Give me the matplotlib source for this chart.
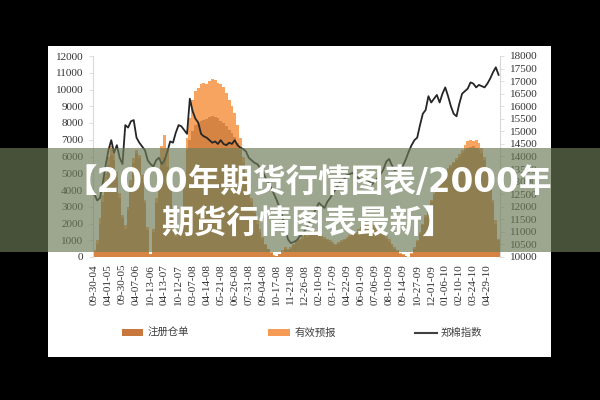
import matplotlib
matplotlib.use("Agg")
import matplotlib.pyplot as plt
from matplotlib.patches import Rectangle
from matplotlib.lines import Line2D
from matplotlib.patches import Patch
import numpy as np

# ---------------- data ----------------
tick_labels = ["09-30-04", "04-01-05", "09-30-05", "04-07-06", "10-13-06", "04-13-07",
               "10-12-07", "03-07-08", "04-14-08", "05-21-08", "06-26-08", "07-31-08",
               "09-04-08", "10-17-08", "11-21-08", "12-26-08", "02-10-09", "03-17-09",
               "04-22-09", "06-01-09", "07-06-09", "08-10-09", "09-14-09", "10-27-09",
               "12-01-09", "01-06-10", "02-10-10", "03-24-10", "04-29-10"]
tick_every = 5

# 郑棉指数 (right axis)
zhengmian = [12500, 12250, 12350, 12950, 13650, 14250, 14650, 14150, 14450, 13950,
             13700, 15250, 15150, 15400, 15450, 14750, 14550, 14400, 14250, 13850,
             13700, 13600, 13850, 13950, 13700, 13850, 14200, 14600, 14550, 14950,
             15250, 15200, 15050, 14900, 16300, 15800, 15500, 15350, 14900, 14800,
             14750, 14650, 14550, 14600, 14500, 14650, 14500, 14450, 14550, 14500,
             14650, 14450, 14350, 14300, 14200, 13950, 13850, 13750, 13700, 13550,
             13400, 13150, 12950, 12750, 12500, 12250, 11950, 11600, 11100, 10700,
             10550, 10600, 10650, 10800, 10900, 11050, 11250, 11450, 11700, 11950,
             12150, 12050, 11950, 12200, 12350, 12550, 12700, 12900, 13050, 13100,
             13250, 13300, 13350, 13200, 13150, 13050, 13000, 12950, 13000, 12900,
             13050, 13150, 13300, 13500, 13800, 13900, 13650, 13450, 13550, 13500,
             13650, 13900, 14200, 14450, 14650, 14750, 15250, 15700, 15850, 16400,
             16150, 16300, 16450, 16150, 16500, 16750, 16400, 16000, 15700, 15600,
             16100, 16500, 16600, 16700, 16950, 16900, 16750, 16850, 16800, 16750,
             16900, 17100, 17350, 17550, 17250]

# 注册仓单 (left axis)
cangdan = [300, 800, 2000, 3300, 4500, 5500, 6100, 5800, 4800, 3500,
           2300, 1700, 2800, 4300, 5600, 6200, 5900, 4700, 3200, 1600,
           150, 1500, 3200, 4600, 5600, 6000, 5400, 4000, 2500, 1200,
           1300, 2500, 4200, 6400, 7000, 7500, 7900, 8000, 8100, 8200,
           8250, 8350, 8400, 8350, 8300, 8100, 8000, 7800, 7600, 7400,
           7150, 6800, 6400, 5600, 4700, 4000, 3300, 2600, 2000, 1500,
           1100, 700, 450, 250, 80, 30, 150, 300, 500, 400,
           500, 700, 900, 1000, 1100, 1300, 1200, 1400, 1500, 1400,
           1300, 1200, 1100, 1000, 900, 800, 700, 800, 900, 1000,
           1100, 1200, 1300, 1400, 1500, 1600, 1700, 1800, 1900, 1800,
           1700, 1500, 1400, 1300, 1100, 900, 700, 500, 350, 200,
           100, 30, 0, 200, 500, 900, 1400, 1900, 2400, 2900,
           3300, 3700, 4000, 4300, 4600, 4900, 5200, 5400, 5600, 5800,
           6000, 6200, 6400, 6500, 6550, 6600, 6500, 6400, 6200, 5800,
           5200, 4300, 3200, 2000, 1000]

# 有效预报 (left axis)
yubao = [400, 1000, 2300, 3700, 5000, 6000, 6600, 6200, 5100, 3800,
         2500, 1900, 3000, 4600, 5900, 6400, 6100, 4900, 3400, 1800,
         200, 1700, 3500, 5200, 6600, 7300, 6500, 4600, 2800, 1400,
         1600, 3000, 5000, 7100, 8300, 9400, 9900, 10100, 10300, 10400,
         10350, 10500, 10600, 10550, 10400, 10300, 10150, 9800, 9400, 9000,
         8600, 7900, 7100, 6000, 5000, 4200, 3500, 2800, 2200, 1700,
         1200, 800, 500, 300, 100, 50, 200, 400, 600, 500,
         600, 800, 1000, 1100, 1250, 1400, 1300, 1500, 1650, 1500,
         1400, 1300, 1200, 1100, 1000, 900, 800, 900, 1000, 1100,
         1200, 1300, 1400, 1500, 1650, 1800, 1900, 2000, 2100, 2000,
         1900, 1700, 1600, 1450, 1250, 1050, 800, 600, 400, 250,
         150, 50, 0, 250, 600, 1000, 1500, 2000, 2500, 3000,
         3400, 3800, 4100, 4400, 4700, 5000, 5300, 5500, 5700, 5900,
         6150, 6400, 6700, 6900, 7000, 6950, 7000, 6800, 6500, 6000,
         5400, 4500, 3400, 2200, 1100]

series_names = ["注册仓单", "有效预报", "郑棉指数"]
banner_text = "【2000年期货行情图表/2000年\n期货行情图表最新】"

# ---------------- figure ----------------
W, H = 600, 400
fig = plt.figure(figsize=(6, 4), dpi=100, facecolor="black")

def fx(px):
    return px / W

def fy(py):
    return 1 - py / H

# white panel
fig.patches.append(Rectangle((fx(48), fy(357)), fx(551) - fx(48), fy(46) - fy(357),
                             transform=fig.transFigure, facecolor="white",
                             edgecolor="none", zorder=-5))

ax = fig.add_axes([fx(93), fy(257), fx(500) - fx(93), fy(56) - fy(257)])
ax.set_facecolor("none")
ax.set_zorder(1)

x = np.arange(len(zhengmian))
c_yubao = "#F59A4F"
c_cangdan = "#C27031"
ax.bar(x, yubao, width=1.0, color=c_yubao, alpha=0.9, linewidth=0)
ax.bar(x, cangdan, width=1.0, color=c_cangdan, alpha=0.6, linewidth=0)
ax.set_ylim(0, 12000)
ax.set_yticks(np.arange(0, 12001, 1000))
ax.set_xlim(-0.5, len(zhengmian) - 0.5)
ticks = np.arange(len(tick_labels)) * tick_every
ax.set_xticks(ticks)
ax.set_xticklabels(tick_labels, rotation=90)

ax2 = ax.twinx()
ax2.plot(x, zhengmian, color="#262626", lw=1.3)
ax2.set_ylim(10000, 18000)
ax2.set_yticks(np.arange(10000, 18001, 500))

serif = ["Liberation Serif", "DejaVu Serif"]
for a in (ax, ax2):
    for s in a.spines.values():
        s.set_visible(False)
    a.tick_params(axis="y", length=3, width=0.6, color="#D9D9D9", pad=4,
                  labelsize=8, labelcolor="#333333")
    for lab in a.get_yticklabels():
        lab.set_family(serif)
ax.spines["left"].set_visible(True)
ax.spines["left"].set_color("#D9D9D9")
ax2.spines["right"].set_visible(True)
ax2.spines["right"].set_color("#D9D9D9")
ax.tick_params(axis="x", length=0, pad=5, labelsize=8, labelcolor="#333333")
for lab in ax.get_xticklabels():
    lab.set_family(serif)

# legend
handles = [Patch(facecolor="#C8783C", edgecolor="none"),
           Patch(facecolor="#F59B55", edgecolor="none"),
           Line2D([0], [0], color="#404040", lw=1.5)]
leg = fig.legend(handles, series_names, ncol=3, loc="center",
                 bbox_to_anchor=(fx(302), fy(333)), frameon=False,
                 prop={"family": ["Noto Sans CJK SC", "DejaVu Sans"], "size": 7.5},
                 handlelength=2.1, handleheight=0.6, handletextpad=0.4,
                 columnspacing=7.6, labelcolor="#404040")

# banner overlay
fig.patches.append(Rectangle((0, fy(252)), 1, fy(148) - fy(252),
                             transform=fig.transFigure,
                             facecolor=(108 / 255, 123 / 255, 87 / 255), alpha=0.667,
                             edgecolor="none", zorder=20))
fig.text(fx(308), fy(204), banner_text, ha="center", va="center", color="white",
         fontsize=23.5, fontweight="bold", linespacing=1.3,
         family=["DejaVu Sans", "Noto Sans CJK SC"], zorder=21)

fig.savefig("out.png", dpi=100, facecolor=fig.get_facecolor())
